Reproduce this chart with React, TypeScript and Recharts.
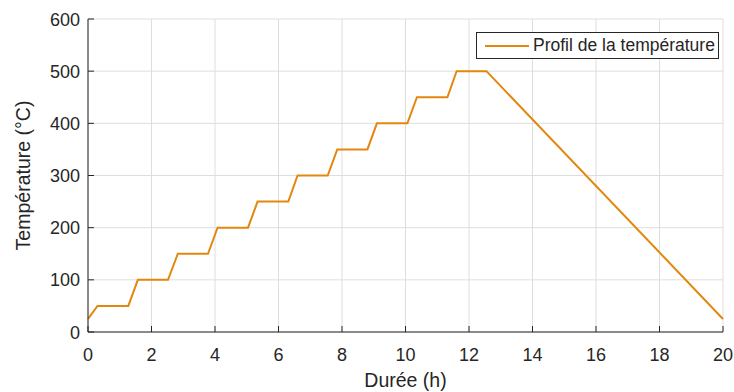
import React from 'react';
import { LineChart, Line, XAxis, YAxis, CartesianGrid } from 'recharts';

const hours = [0, 0.3, 1.27, 1.57, 2.52, 2.83, 3.78, 4.08, 5.04, 5.34, 6.31, 6.6, 7.55, 7.85, 8.8, 9.1, 10.06, 10.36, 11.32, 11.61, 12.55, 20];
const temps = [25, 50, 50, 100, 100, 150, 150, 200, 200, 250, 250, 300, 300, 350, 350, 400, 400, 450, 450, 500, 500, 25];
const xTicks = [0, 2, 4, 6, 8, 10, 12, 14, 16, 18, 20];
const yTicks = [0, 100, 200, 300, 400, 500, 600];
const seriesName = 'Profil de la température';
const xLabel = 'Durée (h)';
const yLabel = 'Température (°C)';

const data = hours.map((h, i) => ({ h, t: temps[i] }));

const FONT = '"Liberation Sans", Arial, Helvetica, sans-serif';
const TXT = '#262626';
const AX = '#262626';
const LINE = '#E3870E';
const TL = 6;
const TICK_FS = 18;

const BottomTick = (p: any) => (
  <g>
    <line x1={p.x} x2={p.x} y1={p.y} y2={p.y - TL} stroke={AX} strokeWidth={1} />
    <text x={p.x} y={p.y + 29} textAnchor="middle" fill={TXT} fontSize={TICK_FS} fontFamily={FONT}>
      {p.payload.value}
    </text>
  </g>
);
const TopTick = (p: any) => (
  <line x1={p.x} x2={p.x} y1={p.y} y2={p.y + TL} stroke={AX} strokeWidth={1} />
);
const LeftTick = (p: any) => (
  <g>
    <line x1={p.x} x2={p.x + TL} y1={p.y} y2={p.y} stroke={AX} strokeWidth={1} />
    <text x={p.x - 8} y={p.y + 6.5} textAnchor="end" fill={TXT} fontSize={TICK_FS} fontFamily={FONT}>
      {p.payload.value}
    </text>
  </g>
);
const RightTick = (p: any) => (
  <line x1={p.x} x2={p.x - TL} y1={p.y} y2={p.y} stroke={AX} strokeWidth={1} />
);

const LegendBox = () => (
  <div
    style={{
      position: 'absolute',
      left: 476,
      top: 32,
      width: 243,
      height: 27,
      border: '1px solid #262626',
      background: '#fff',
      display: 'flex',
      alignItems: 'center',
      boxSizing: 'border-box',
      fontFamily: FONT,
      fontSize: 17.5,
      color: TXT,
    }}
  >
    <svg width={56} height={24} style={{ flex: 'none' }}>
      <line x1={8} x2={52} y1={12} y2={12} stroke={LINE} strokeWidth={2} />
    </svg>
    <span style={{ whiteSpace: 'nowrap' }}>{seriesName}</span>
  </div>
);

export default function App() {
  return (
    <div style={{ position: 'absolute', left: 0, top: 0, width: 734, height: 392, background: '#fff' }}>
      <LineChart width={734} height={392} data={data} margin={{ top: 19, right: 11, bottom: 0, left: 0 }}>
        <CartesianGrid xAxisId="b" yAxisId="l" stroke="#dedede" strokeWidth={1} horizontal vertical />
        <XAxis
          xAxisId="b"
          dataKey="h"
          type="number"
          domain={[0, 20]}
          ticks={xTicks}
          interval={0}
          height={60}
          tickSize={0}
          tickMargin={0}
          tickLine={false}
          axisLine={{ stroke: AX, strokeWidth: 1 }}
          tick={<BottomTick />}
          label={{ value: xLabel, position: 'insideBottom', offset: 5, fill: TXT, fontSize: 19.5, fontFamily: FONT }}
        />
        <XAxis
          xAxisId="t"
          orientation="top"
          dataKey="h"
          type="number"
          domain={[0, 20]}
          ticks={xTicks}
          interval={0}
          height={0}
          tickSize={0}
          tickMargin={0}
          tickLine={false}
          axisLine={{ stroke: AX, strokeWidth: 1 }}
          tick={<TopTick />}
        />
        <YAxis
          yAxisId="l"
          type="number"
          domain={[0, 600]}
          ticks={yTicks}
          interval={0}
          width={88}
          tickSize={0}
          tickMargin={0}
          tickLine={false}
          axisLine={{ stroke: AX, strokeWidth: 1 }}
          tick={<LeftTick />}
          label={{ value: yLabel, angle: -90, position: 'insideLeft', offset: 23, style: { textAnchor: 'middle' }, fill: TXT, fontSize: 19.5, fontFamily: FONT }}
        />
        <YAxis
          yAxisId="r"
          orientation="right"
          type="number"
          domain={[0, 600]}
          ticks={yTicks}
          interval={0}
          width={0}
          tickSize={0}
          tickMargin={0}
          tickLine={false}
          axisLine={{ stroke: AX, strokeWidth: 1 }}
          tick={<RightTick />}
        />
        <Line
          xAxisId="b"
          yAxisId="l"
          type="linear"
          dataKey="t"
          name={seriesName}
          stroke={LINE}
          strokeWidth={2}
          dot={false}
          activeDot={false}
          isAnimationActive={false}
        />
      </LineChart>
      <LegendBox />
    </div>
  );
}
